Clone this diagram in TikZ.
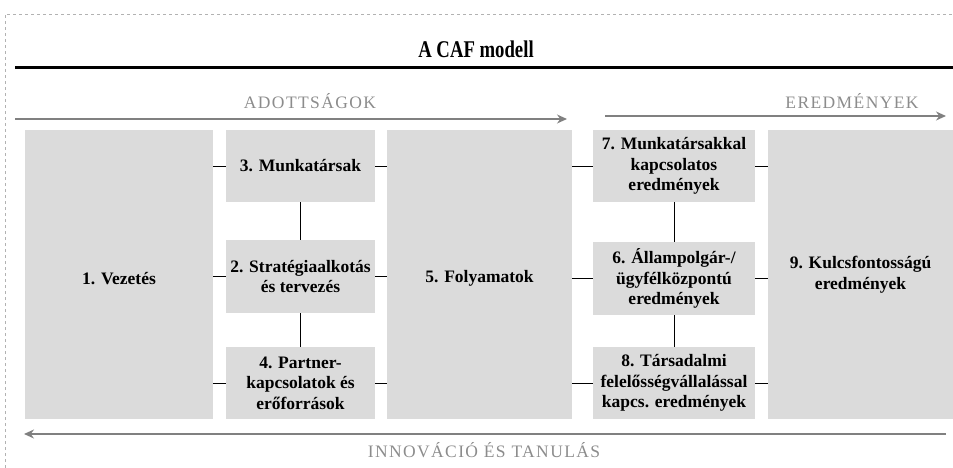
\documentclass[tikz,border=0pt]{standalone}
\usepackage{fontspec}
\setmainfont{Liberation Serif}
\newfontfamily\spacedfont[LetterSpace=8]{Liberation Serif}
\usetikzlibrary{arrows.meta}
\definecolor{boxgray}{rgb}{0.86,0.86,0.86}
\definecolor{arrowgray}{rgb}{0.5,0.5,0.5}
\definecolor{labelgray}{rgb}{0.55,0.55,0.55}
\tikzset{
  cafbox/.style={fill=boxgray, draw=none, inner sep=0pt, align=center,
    font=\fontsize{17.5}{20.5}\selectfont\bfseries},
  link/.style={draw=black, line width=0.8pt},
  flow/.style={draw=arrowgray, line width=1.4pt, -{Stealth[length=10pt,width=9pt]}},
  band/.style={text=labelgray, font=\fontsize{17.5}{20}\selectfont\spacedfont, inner sep=0pt},
}
\begin{document}
\begin{tikzpicture}[x=1pt,y=-1pt]
\useasboundingbox (0,0) rectangle (953,468);
% frame
\draw[gray!60, dashed, line width=0.6pt] (5,468) -- (5,14) -- (953,14);
% title
\node (title) at (476,49) {\scalebox{0.78}[1]{\fontsize{24}{28}\selectfont\bfseries A CAF modell}};
\coordinate (ruleL) at (15,68);
\coordinate (ruleR) at (953,68);
\draw[line width=3pt] (ruleL) -- (ruleR);
% band labels and arrows
\node[band] (adott) at (310,101) {ADOTTSÁGOK};
\node[band] (eredm) at (852,101) {EREDMÉNYEK};
\node[band] (innov) at (484,450) {INNOVÁCIÓ ÉS TANULÁS};
\coordinate (aL) at (15,119);
\coordinate (aR) at (567,119);
\coordinate (eL) at (605,116);
\coordinate (eR) at (946,116);
\coordinate (iR) at (946,434);
\coordinate (iL) at (24,434);
\draw[flow] (aL) -- (aR);
\draw[flow] (eL) -- (eR);
\draw[flow] (iR) -- (iL);
% boxes
\node[cafbox, minimum width=188pt, minimum height=289pt] (b1) at (119,274.5) {\\1. Vezetés};
\node[cafbox, minimum width=149pt, minimum height=72pt] (b3) at (300.5,166) {3. Munkatársak};
\node[cafbox, minimum width=149pt, minimum height=73pt] (b2) at (300.5,276.5) {2. Stratégiaalkotás\\és tervezés};
\node[cafbox, minimum width=149pt, minimum height=72pt] (b4) at (300.5,383) {4. Partner-\\kapcsolatok és\\erőforrások};
\node[cafbox, minimum width=185pt, minimum height=289pt] (b5) at (479.5,274.5) {\\5. Folyamatok};
\node[cafbox, minimum width=162pt, minimum height=72pt] (b7) at (674,166) {7. Munkatársakkal\\kapcsolatos\\eredmények};
\node[cafbox, minimum width=162pt, minimum height=73pt] (b6) at (674,278.5) {6. Állampolgár-/\\ügyfélközpontú\\eredmények};
\node[cafbox, minimum width=162pt, minimum height=72pt] (b8) at (674,383) {8. Társadalmi\\felelősségvállalással\\kapcs. eredmények};
\node[cafbox, minimum width=185pt, minimum height=289pt] (b9) at (860.5,274.5) {9. Kulcsfontosságú\\eredmények};
% horizontal links
\draw[link] (b1.east |- b3.west) -- (b3.west);
\draw[link] (b3.east) -- (b5.west |- b3.east);
\draw[link] (b1.east |- b2.west) -- (b2.west);
\draw[link] (b2.east) -- (b5.west |- b2.east);
\draw[link] (b1.east |- b4.west) -- (b4.west);
\draw[link] (b4.east) -- (b5.west |- b4.east);
\draw[link] (b5.east |- b7.west) -- (b7.west);
\draw[link] (b7.east) -- (b9.west |- b7.east);
\draw[link] (b5.east |- b6.west) -- (b6.west);
\draw[link] (b6.east) -- (b9.west |- b6.east);
\draw[link] (b5.east |- b8.west) -- (b8.west);
\draw[link] (b8.east) -- (b9.west |- b8.east);
% vertical links
\draw[link] (b3.south) -- (b2.north);
\draw[link] (b2.south) -- (b4.north);
\draw[link] (b7.south) -- (b6.north);
\draw[link] (b6.south) -- (b8.north);
\end{tikzpicture}
\end{document}
